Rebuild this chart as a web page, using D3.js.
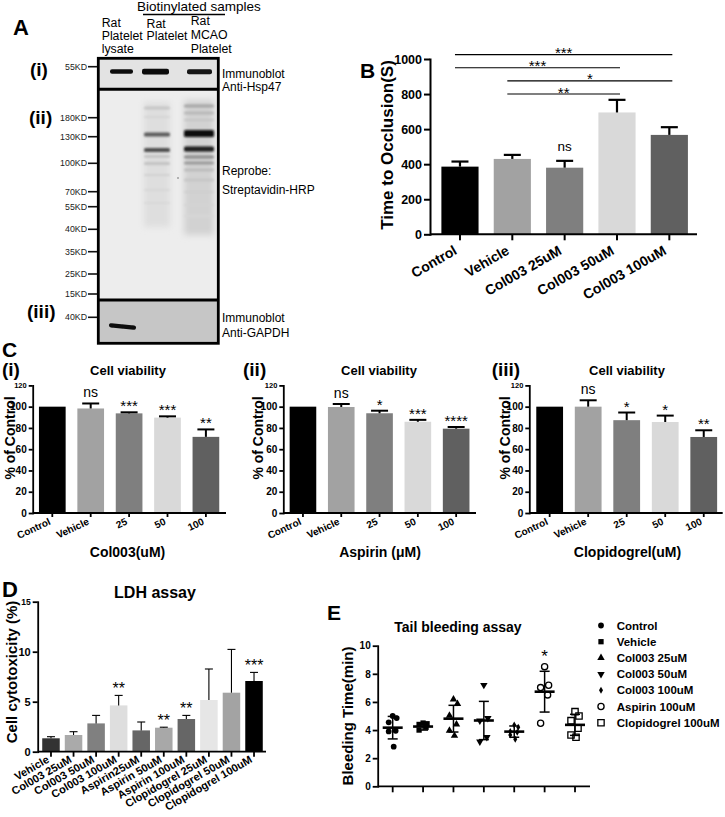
<!DOCTYPE html>
<html><head><meta charset="utf-8">
<script src="https://cdn.jsdelivr.net/npm/d3@7"></script>
<style>
body{margin:0;background:#fff;}
svg{display:block;}
</style></head><body>
<svg id="fig" width="725" height="817"></svg>
<script>
// ================= DATA =================
// Panel B
const bCategories = ["Control","Vehicle","Col003 25uM","Col003 50uM","Col003 100uM"];
const bMeans = [386, 430, 380, 695, 567];
const bSEM = [29, 23, 39, 72, 44];
const bTicks = [0,200,400,600,800,1000];
const bBarLabels = ["","","ns","",""];
const bComparisons = [["Control","Col003 100uM","***"],["Control","Col003 50uM","***"],["Vehicle","Col003 100uM","*"],["Vehicle","Col003 50uM","**"]];
const bComparisonLevels = [1025, 950, 875, 800];

// Panel C (cell viability)
const cCategories = ["Control","Vehicle","25","50","100"];
const cTicks = [0,20,40,60,80,100,120];
const c1Means = [100, 98.3, 93.7, 89.7, 71.6];
const c1SEM   = [0, 4.7, 1.0, 1.2, 7.0];
const c1Sig   = ["","ns","***","***","**"];
const c2Means = [100, 99.7, 93.8, 85.8, 79.3];
const c2SEM   = [0, 2.8, 2.4, 1.8, 1.6];
const c2Sig   = ["","ns","*","***","****"];
const c3Means = [100, 100, 87.3, 85.6, 71.5];
const c3SEM   = [0, 6.0, 7.2, 6.0, 6.3];
const c3Sig   = ["","ns","*","*","**"];

// Panel D (LDH)
const dCategories = ["Vehicle","Col003 25uM","Col003 50uM","Col003 100uM","Aspirin25uM","Aspirin 50uM","Aspirin 100uM","Clopidogrel 25uM","Clopidogrel 50uM","Clopidogrel 100uM"];
const dMeans = [1.34, 1.67, 2.83, 4.63, 2.13, 2.40, 3.27, 5.17, 5.90, 7.07];
const dSEM   = [0.16, 0.33, 0.80, 1.00, 0.84, 0.05, 0.36, 3.10, 4.33, 0.86];
const dSig   = ["","","","**","","**","**","","","***"];
const dTicks = [0,5,10,15];

// Panel E (tail bleeding)
const eGroups = ["Control","Vehicle","Col003 25uM","Col003 50uM","Col003 100uM","Aspirin 100uM","Clopidogrel 100uM"];
const eControl     = [5.00, 4.85, 4.55, 3.95, 3.90, 2.82];
const eVehicle     = [4.50, 4.45, 4.40, 4.20, 4.00];
const eCol25       = [6.19, 5.86, 5.03, 4.41, 3.96, 3.60];
const eCol50       = [7.20, 4.84, 4.67, 3.49, 3.18];
const eCol100      = [4.36, 4.20, 3.90, 3.84, 3.65, 3.35];
const eAspirin     = [8.51, 7.19, 7.02, 6.50, 4.48];
const eClopidogrel = [5.31, 5.00, 4.67, 4.13, 3.65, 3.49];
const eMeans = [4.17, 4.25, 4.81, 4.68, 3.89, 6.73, 4.37];
const eSD    = [0.80, 0.25, 0.95, 1.36, 0.40, 1.45, 0.75];
const eSig   = ["","","","","","*",""];
const eTicks = [0,2,4,6,8,10];

// ================= STYLE =================
const F = "'Liberation Sans', Arial, Helvetica, sans-serif";
const grays5 = ["#000000","#a2a2a2","#7f7f7f","#d9d9d9","#606060"];
const dColors = ["#333333","#aaaaaa","#808080","#dedede","#666666","#a8a8a8","#666666","#e6e6e6","#a3a3a3","#000000"];

const svg = d3.select("#fig").attr("font-family", F);
const defs = svg.append("defs");
[["b05",0.5],["b08",0.8],["b12",1.2],["b2",2],["b3",3]].forEach(([id,s])=>{
  defs.append("filter").attr("id",id).attr("x","-50%").attr("y","-300%").attr("width","200%").attr("height","700%")
    .append("feGaussianBlur").attr("stdDeviation",s);
});

function txt(g, x, y, s, fs, o={}) {
  const t = g.append("text").attr("x",x).attr("y",y).text(s).attr("font-size",fs).attr("fill",o.fill||"#000");
  if (o.bold) t.attr("font-weight","bold");
  if (o.anchor) t.attr("text-anchor",o.anchor);
  if (o.rotate) t.attr("transform",`rotate(${o.rotate},${x},${y})`);
  return t;
}
function sigText(g, x, cy, s, fs) {
  if (!s) return;
  const isStar = s.includes("*");
  txt(g, x, isStar ? cy + 0.6*fs : cy + 0.27*fs, s, fs, {anchor:"middle"});
}
function yAxisLin(g, y, xPos, ticks, fs, sw, tl) {
  const a = g.append("g").attr("transform",`translate(${xPos},0)`)
    .call(d3.axisLeft(y).tickValues(ticks).tickFormat(d3.format("d")).tickSize(tl).tickSizeOuter(0).tickPadding(2));
  a.attr("font-family",F);
  a.select(".domain").attr("stroke","#000").attr("stroke-width",sw).attr("stroke-linecap","square");
  a.selectAll(".tick line").attr("stroke","#000").attr("stroke-width",sw);
  a.selectAll(".tick text").attr("font-size",fs).attr("font-weight","bold").attr("fill","#000");
  return a;
}
function xAxisBand(g, x, yPos, x0, x1, fs, sw, tl, rot, off, showLabels) {
  g.append("line").attr("x1",x0).attr("x2",x1).attr("y1",yPos).attr("y2",yPos)
    .attr("stroke","#000").attr("stroke-width",sw);
  const a = g.append("g").attr("transform",`translate(0,${yPos})`)
    .call(d3.axisBottom(x).tickSize(tl).tickSizeOuter(0));
  a.attr("font-family",F);
  a.select(".domain").remove();
  a.selectAll(".tick line").attr("stroke","#000").attr("stroke-width",sw);
  if (showLabels) {
    a.selectAll(".tick text").attr("x",0).attr("y",0).attr("dy",null)
      .attr("text-anchor","end").attr("font-size",fs).attr("font-weight","bold").attr("fill","#000")
      .attr("transform",`translate(${off[0]},${off[1]}) rotate(${rot})`);
  } else a.selectAll(".tick text").remove();
  return a;
}
function barPanel(cfg) {
  const g = svg.append("g");
  const x = d3.scaleBand().domain(cfg.cats).range(cfg.xr).paddingInner(cfg.pad).paddingOuter(cfg.pad/2);
  const y = d3.scaleLinear().domain(cfg.yd).range(cfg.yr);
  g.selectAll("rect.bar").data(cfg.cats).join("rect").attr("class","bar")
    .attr("x", c=>x(c)).attr("width", x.bandwidth())
    .attr("y", (c,i)=>y(cfg.means[i])).attr("height",(c,i)=>y(0)-y(cfg.means[i]))
    .attr("fill",(c,i)=>cfg.colors[i]);
  cfg.cats.forEach((c,i)=>{
    const e = cfg.errs[i]; if (!e) return;
    const cx = x(c)+x.bandwidth()/2, top = y(cfg.means[i]+e);
    g.append("line").attr("x1",cx).attr("x2",cx).attr("y1",y(cfg.means[i])).attr("y2",top)
      .attr("stroke","#000").attr("stroke-width",cfg.esw);
    g.append("line").attr("x1",cx-cfg.cap/2).attr("x2",cx+cfg.cap/2).attr("y1",top).attr("y2",top)
      .attr("stroke","#000").attr("stroke-width",cfg.esw);
  });
  const ya = yAxisLin(g, y, cfg.axX, cfg.ticks, cfg.tfs, cfg.sw, cfg.ytl);
  xAxisBand(g, x, cfg.yr[0], cfg.axX, cfg.xEnd, cfg.xfs, cfg.sw, cfg.xtl, cfg.rot, cfg.off, true);
  cfg.cats.forEach((c,i)=>{
    const s = cfg.sig[i]; if (!s) return;
    const cx = x(c)+x.bandwidth()/2;
    sigText(g, cx, y(cfg.means[i]+(cfg.errs[i]||0)) - cfg.sigGap, s, s.includes("*")?cfg.starFs:cfg.nsFs);
  });
  return {g,x,y,ya};
}

// ================= PANEL A (blot) =================
const A = svg.append("g");
txt(A, 13, 35, "A", 22, {bold:true});
txt(A, 137, 11, "Biotinylated samples", 13.5);
A.append("line").attr("x1",143).attr("x2",225).attr("y1",14.5).attr("y2",14.5).attr("stroke","#000").attr("stroke-width",1.3);
[[101.7,["Rat","Platelet","lysate"],[26.5,39.5,53.3]],
 [146.5,["Rat","Platelet"],[27.5,40]],
 [190.7,["Rat","MCAO","Platelet"],[25,39.3,53.3]]].forEach(([x,ls,ys])=>{
  ls.forEach((l,i)=>txt(A, x, ys[i], l, 12.3));
});
// blot backgrounds
A.append("rect").attr("x",98.3).attr("y",58.3).attr("width",120).attr("height",31).attr("fill","#e3e3e3");
A.append("rect").attr("x",98.3).attr("y",89.3).attr("width",120).attr("height",210.7).attr("fill","#ededed");
A.append("rect").attr("x",98.3).attr("y",300).attr("width",120).attr("height",43.3).attr("fill","#c6c6c6");
// (i) Hsp47 bands
[[110,69.3,23,4.5,"#111"],[142,68.8,27,5.8,"#0d0d0d"],[187,69.3,25,5,"#141414"]].forEach(([x,y,w,h,c])=>{
  A.append("rect").attr("x",x).attr("y",y).attr("width",w).attr("height",h).attr("rx",2).attr("fill",c).attr("filter","url(#b05)");
});
// (ii) streptavidin smear + bands
A.append("rect").attr("x",144).attr("y",102).attr("width",26).attr("height",125).attr("fill","#dedede").attr("filter","url(#b3)");
A.append("rect").attr("x",184).attr("y",100).attr("width",30).attr("height",135).attr("fill","#d2d2d2").attr("filter","url(#b3)");
const lane2 = [[108,3,"#c6c6c6"],[117,2,"#d4d4d4"],[134.5,4,"#5a5a5a"],[150,4,"#4e4e4e"],[156.5,2,"#b8b8b8"],[163.5,3,"#c2c2c2"],[175,2,"#d0d0d0"],[190,2,"#d6d6d6"],[203,2,"#d8d8d8"]];
const lane3 = [[106,3,"#a6a6a6"],[113,3,"#b8b8b8"],[120,2,"#c4c4c4"],[133.5,7,"#0a0a0a"],[149,5,"#1a1a1a"],[157,3,"#8a8a8a"],[163,3,"#9a9a9a"],[170,3,"#bcbcbc"],[180,3,"#c6c6c6"],[192,2,"#cecece"],[205,2,"#d4d4d4"],[216,2,"#d8d8d8"]];
lane2.forEach(([y,h,c])=>A.append("rect").attr("x",144).attr("y",y-h/2).attr("width",26).attr("height",h).attr("rx",1.5).attr("fill",c).attr("filter","url(#b08)"));
lane3.forEach(([y,h,c])=>A.append("rect").attr("x",184).attr("y",y-h/2).attr("width",30).attr("height",h).attr("rx",1.5).attr("fill",c).attr("filter","url(#b08)"));
A.append("circle").attr("cx",178).attr("cy",178).attr("r",0.8).attr("fill","#666");
// (iii) GAPDH band
A.append("line").attr("x1",111).attr("x2",134).attr("y1",325.3).attr("y2",327.6).attr("stroke","#0a0a0a").attr("stroke-width",4.2).attr("stroke-linecap","round").attr("filter","url(#b05)");
// borders
A.append("rect").attr("x",98.3).attr("y",58.3).attr("width",120).attr("height",285).attr("fill","none").attr("stroke","#000").attr("stroke-width",2.8);
[89.3,300].forEach(y=>A.append("line").attr("x1",98.3).attr("x2",218.3).attr("y1",y).attr("y2",y).attr("stroke","#000").attr("stroke-width",3));
// MW markers
[["55KD",66.7],["180KD",117.7],["130KD",136.7],["100KD",163.3],["70KD",191.7],["55KD",206.7],["40KD",229.3],["35KD",251.7],["25KD",274],["15KD",294],["40KD",317.3]].forEach(([l,y])=>{
  txt(A, 87, y+3, l, 8.8, {anchor:"end", fill:"#222"});
  A.append("line").attr("x1",88).attr("x2",97).attr("y1",y).attr("y2",y).attr("stroke","#111").attr("stroke-width",1.6);
});
txt(A, 30, 76, "(i)", 19, {bold:true});
txt(A, 29, 124, "(ii)", 19, {bold:true});
txt(A, 27, 318, "(iii)", 19, {bold:true});
txt(A, 222, 78, "Immunoblot", 12);
txt(A, 222, 91, "Anti-Hsp47", 12);
txt(A, 222, 175, "Reprobe:", 12);
txt(A, 222, 194, "Streptavidin-HRP", 12);
txt(A, 222, 322, "Immunoblot", 12);
txt(A, 222, 337, "Anti-GAPDH", 12);

// ================= PANEL B =================
const B = barPanel({cats:bCategories, means:bMeans, errs:bSEM, colors:grays5, sig:bBarLabels,
  xr:[433.8,695.5], pad:0.29, yd:[0,1000], yr:[234.3,59], axX:430, xEnd:697, ticks:bTicks,
  tfs:12.5, sw:2, ytl:6, xtl:6, xfs:14, rot:-30, off:[-2,19], esw:2.2, cap:17,
  sigGap:13, starFs:15, nsFs:13.5});
const bc = c => B.x(c) + B.x.bandwidth()/2;
bComparisons.forEach(([a,b,s],k)=>{
  const yy = B.y(bComparisonLevels[k]);
  const x1 = bc(a)-5, x2 = bc(b)+3;
  B.g.append("line").attr("x1",x1).attr("x2",x2).attr("y1",yy).attr("y2",yy).attr("stroke","#000").attr("stroke-width",1.1);
  sigText(B.g, (x1+x2)/2, yy-5.5, s, 15);
});
txt(B.g, 360, 78, "B", 21, {bold:true});
txt(B.g, 393, 145, "Time to Occlusion(S)", 17, {bold:true, anchor:"middle", rotate:-90});

// ================= PANEL C =================
txt(svg, 2, 357, "C", 21, {bold:true});
const cCommon = {cats:cCategories, colors:grays5, pad:0.305, yd:[0,120], yr:[513,385.4], ticks:cTicks,
  tfs:10, sw:1.8, ytl:4, xtl:4, xfs:10, rot:-25, off:[-1,11], esw:2, cap:17, sigGap:10, starFs:15, nsFs:14};
const cPanels = [
  {means:c1Means, errs:c1SEM, sig:c1Sig, xr:[33.1,225.1], axX:32.7, xEnd:226, roman:"(i)", rx:2, title:128, yl:10, xt:"Col003(uM)", xtc:127.5},
  {means:c2Means, errs:c2SEM, sig:c2Sig, xr:[283.8,475.3], axX:283.3, xEnd:476, roman:"(ii)", rx:243, title:379, yl:258, xt:"Aspirin (\u03bcM)", xtc:380},
  {means:c3Means, errs:c3SEM, sig:c3Sig, xr:[530.4,723], axX:529.3, xEnd:722.7, roman:"(iii)", rx:491.7, title:627, yl:505, xt:"Clopidogrel(uM)", xtc:627.5}
];
cPanels.forEach(p=>{
  const P = barPanel(Object.assign({}, cCommon, p));
  P.ya.selectAll(".tick text").filter(d=>d===120).attr("font-size",7.5);
  txt(P.g, p.rx, 376, p.roman, 19, {bold:true});
  txt(P.g, p.title, 375, "Cell viability", 13, {bold:true, anchor:"middle"});
  txt(P.g, p.yl+5, 438, "% of Control", 14, {bold:true, anchor:"middle", rotate:-90});
  txt(P.g, p.xtc, 557, p.xt, 14, {bold:true, anchor:"middle"});
});

// ================= PANEL D =================
const D = barPanel({cats:dCategories, means:dMeans, errs:dSEM, colors:dColors, sig:dSig,
  xr:[39.7,265.3], pad:0.224, yd:[0,15], yr:[751.7,601.7], axX:37.7, xEnd:266, ticks:dTicks,
  tfs:11, sw:1.8, ytl:5, xtl:5, xfs:11, rot:-30, off:[-1,10], esw:1.1, cap:8,
  sigGap:11, starFs:16, nsFs:14});
D.ya.selectAll(".tick text").filter(d=>d===15).attr("font-size",8.5);
txt(D.g, 2, 597, "D", 22, {bold:true});
txt(D.g, 155, 598, "LDH assay", 16, {bold:true, anchor:"middle"});
txt(D.g, 17, 672, "Cell cytotoxicity (%)", 15, {bold:true, anchor:"middle", rotate:-90});

// ================= PANEL E =================
const E = svg.append("g");
const eX = d3.scaleBand().domain(eGroups).range([377.5,590.2]);
const eY = d3.scaleLinear().domain([0,10]).range([786.3,645.7]);
yAxisLin(E, eY, 377.7, eTicks, 10, 1.8, 5);
xAxisBand(E, eX, 786.3, 377.7, 590, 10, 1.8, 6, 0, [0,0], false);
const eSeries = [eControl, eVehicle, eCol25, eCol50, eCol100, eAspirin, eClopidogrel];
const eSym = [
  {t:d3.symbolCircle, s:26, fill:"#000", rot:0},
  {t:d3.symbolSquare, s:28, fill:"#000", rot:0},
  {t:d3.symbolTriangle, s:24, fill:"#000", rot:0},
  {t:d3.symbolTriangle, s:24, fill:"#000", rot:180},
  {t:d3.symbolDiamond, s:14, fill:"#000", rot:0},
  {t:d3.symbolCircle, s:30, fill:"none", rot:0},
  {t:d3.symbolSquare, s:40, fill:"none", rot:0}
];
const JITTER = [0, 4, -4, 3, -4, 1];
const ec = g => eX(g) + eX.bandwidth()/2;
function drawSym(g, k, x, y) {
  const m = eSym[k];
  g.append("path").attr("d", d3.symbol().type(m.t).size(m.s)())
    .attr("transform",`translate(${x},${y}) rotate(${m.rot})`)
    .attr("fill", m.fill).attr("stroke", m.fill==="none" ? "#000" : "none").attr("stroke-width",1.3);
}
eGroups.forEach((gname,k)=>{
  const cx = ec(gname);
  eSeries[k].forEach((v,i)=>drawSym(E, k, cx + JITTER[i % JITTER.length], eY(v)));
  const m = eMeans[k], s = eSD[k];
  E.append("line").attr("x1",cx).attr("x2",cx).attr("y1",eY(m+s)).attr("y2",eY(m-s)).attr("stroke","#000").attr("stroke-width",1.5);
  [m+s, m-s].forEach(v=>E.append("line").attr("x1",cx-5).attr("x2",cx+5).attr("y1",eY(v)).attr("y2",eY(v)).attr("stroke","#000").attr("stroke-width",1.5));
  E.append("line").attr("x1",cx-10).attr("x2",cx+10).attr("y1",eY(m)).attr("y2",eY(m)).attr("stroke","#000").attr("stroke-width",2.6);
  if (eSig[k]) sigText(E, cx, 651.7, eSig[k], 17);
});
txt(E, 327, 620, "E", 21, {bold:true});
txt(E, 458, 632, "Tail bleeding assay", 14, {bold:true, anchor:"middle"});
txt(E, 353, 716, "Bleeding Time(min)", 15, {bold:true, anchor:"middle", rotate:-90});
eGroups.forEach((gname,k)=>{
  const yy = 625.5 + k*16.2;
  drawSym(E, k, 601, yy);
  txt(E, 616.7, yy+4, gname, 11.5, {bold:true});
});
</script>
</body></html>
